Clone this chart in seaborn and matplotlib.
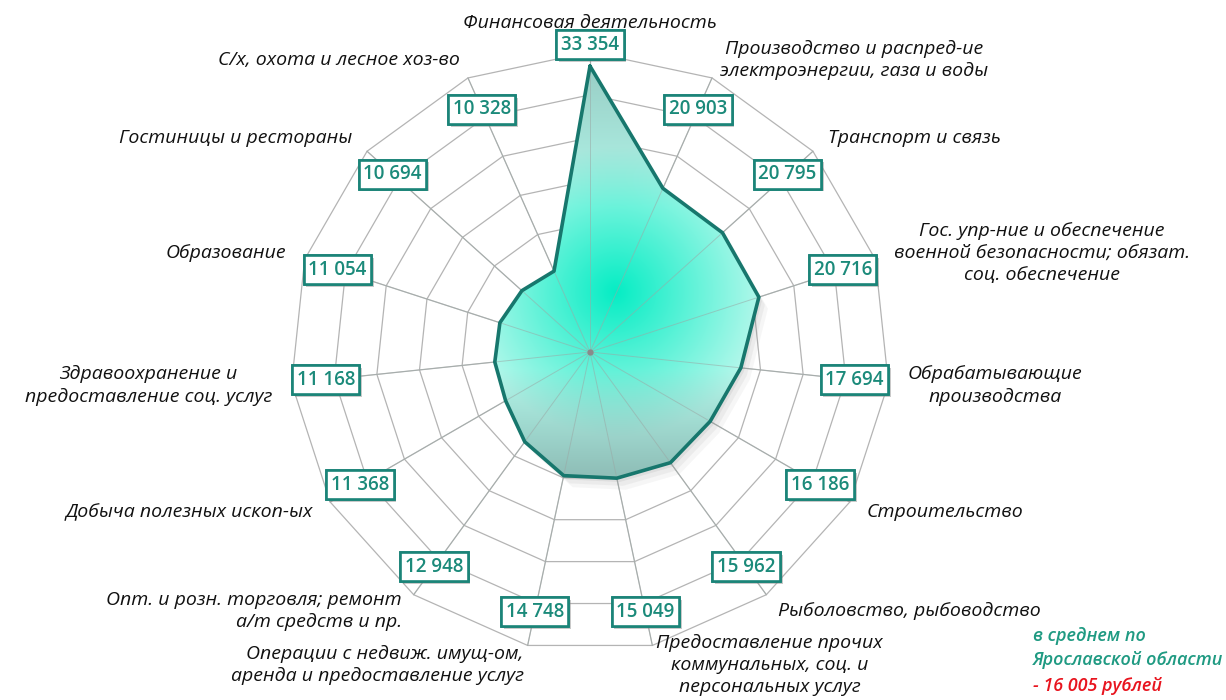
import numpy as np
import pandas as pd
import matplotlib
matplotlib.use("Agg")
import matplotlib.pyplot as plt
import matplotlib.patheffects as pe
import seaborn as sns
from matplotlib.patches import Polygon

# Sectors, clockwise from the top
categories = [
    "Финансовая деятельность",
    "Производство и распред-ие\nэлектроэнергии, газа и воды",
    "Транспорт и связь",
    "Гос. упр-ние и обеспечение\nвоенной безопасности; обязат.\nсоц. обеспечение",
    "Обрабатывающие\nпроизводства",
    "Строительство",
    "Рыболовство, рыбоводство",
    "Предоставление прочих\nкоммунальных, соц. и\nперсональных услуг",
    "Операции с недвиж. имущ-ом,\nаренда и предоставление услуг",
    "Опт. и розн. торговля; ремонт\nа/т средств и пр.",
    "Добыча полезных ископ-ых",
    "Здравоохранение и\nпредоставление соц. услуг",
    "Образование",
    "Гостиницы и рестораны",
    "С/х, охота и лесное хоз-во",
]
wages = [33354, 20903, 20795, 20716, 17694, 16186, 15962, 15049,
         14748, 12948, 11368, 11168, 11054, 10694, 10328]
avg_lines = ["в среднем по", "Ярославской области"]
avg_value = "- 16 005 рублей"

grid_max = 35000
grid_step = 5000

sns.set_theme(style="white")
plt.rcParams['font.family'] = ['Open Sans', 'DejaVu Sans']

# pixel layout of the picture
W, H = 1226, 700
cx, cy = 590, 352
r_px = 300
scale = grid_max / r_px

fig = plt.figure(figsize=(W / 100, H / 100), dpi=100)
ax = fig.add_axes([0, 0, 1, 1])
ax.axis('off')

n = len(categories)
theta = 2 * np.pi * np.arange(n) / n
sx, sy = np.sin(theta), np.cos(theta)

# polygon grid
grid_col = "#b4b4b4"
for lvl in range(grid_step, grid_max + 1, grid_step):
    ax.plot(np.append(sx, sx[0]) * lvl, np.append(sy, sy[0]) * lvl,
            color=grid_col, lw=0.9, zorder=1)
for a, b in zip(sx, sy):
    ax.plot([0, a * grid_max], [0, b * grid_max], color=grid_col, lw=0.9, zorder=1)

vals = np.array(wages, dtype=float)
px, py = vals * sx, vals * sy
verts = np.column_stack([px, py])

# soft shadow under the shape
for k, al in [(1, 0.10), (2, 0.08), (3, 0.06)]:
    ax.add_patch(Polygon(verts + [350 * k, -450 * k], closed=True,
                         fc="#707070", ec="none", alpha=al, zorder=2))

# gradient fill clipped to the shape
xs = np.linspace(-36000, 36000, 400)
ys = np.linspace(-36000, 36000, 400)
gx, gy = np.meshgrid(xs, ys)
bright = np.array([0.02, 0.93, 0.77])
light = np.array([0.70, 0.97, 0.92])
grey = np.array([0.52, 0.68, 0.66])
d = np.clip(np.hypot(gx - 3000, gy - 7000) / 17000, 0, 1)[..., None]
img = bright * (1 - d) + light * d
t = (np.clip((-gy - 2000) / 12000, 0, 1) * 0.75)[..., None]
img = img * (1 - t) + grey * t
t2 = (np.clip((gy - 17000) / 16000, 0, 1) * 0.55)[..., None]
img = img * (1 - t2) + grey * t2
clip = Polygon(verts, closed=True, fc="none", ec="none")
ax.add_patch(clip)
im = ax.imshow(img, extent=(xs[0], xs[-1], ys[0], ys[-1]), origin="lower",
               zorder=3, interpolation="bilinear", aspect="auto")
im.set_clip_path(clip)

# spokes showing through the fill
for a, b in zip(sx, sy):
    ax.plot([0, a * grid_max], [0, b * grid_max], color="#9aa8a5", lw=0.7,
            alpha=0.55, zorder=4)

outline = pd.DataFrame({"x": np.append(px, px[0]), "y": np.append(py, py[0])})
sns.lineplot(data=outline, x="x", y="y", sort=False, estimator=None,
             color="#17776d", lw=2.6, ax=ax, zorder=5)
ax.plot(0, 0, "o", ms=3.5, color="#8a8a8a", zorder=6)

# value boxes
for v, a, b in zip(wages, sx, sy):
    r = max(31000, v + 2500)
    txt = ax.text(a * r, b * r, f"{v:,}".replace(",", " "), ha="center", va="center",
                  fontsize=13.5, fontweight="semibold", color="#1b8a7a", zorder=8,
                  bbox=dict(boxstyle="square,pad=0.24", fc="white", ec="#1b8478", lw=1.9))
    txt.get_bbox_patch().set_path_effects(
        [pe.withSimplePatchShadow(offset=(2, -2), shadow_rgbFace="#888888", alpha=0.45),
         pe.Normal()])

# category labels
r_lab = 37300
for name, th, a, b in zip(categories, np.degrees(theta), sx, sy):
    if th < 1:
        ha, va, ma = "center", "bottom", "center"
    elif th < 180:
        ha, va, ma = "left", "center", "center"
    else:
        ha, va = "right", "center"
        ma = "right" if th < 250 else "center"
    ax.text(a * r_lab, b * r_lab, name, ha=ha, va=va, multialignment=ma,
            fontsize=14, style="italic", color="#111111", linespacing=1.3, zorder=7)

# note about the regional average
x0 = 1033 / W
for i, line in enumerate(avg_lines):
    fig.text(x0, 1 - (636 + 24 * i) / H, line, ha="left", va="center", fontsize=13,
             style="italic", fontweight="semibold", color="#1f9a82")
fig.text(x0, 1 - 686 / H, avg_value, ha="left", va="center", fontsize=13,
         style="italic", fontweight="semibold", color="#e8141e")

ax.set_xlim(-cx * scale, (W - cx) * scale)
ax.set_ylim(-(H - cy) * scale, cy * scale)
fig.savefig("out.png", dpi=100)
